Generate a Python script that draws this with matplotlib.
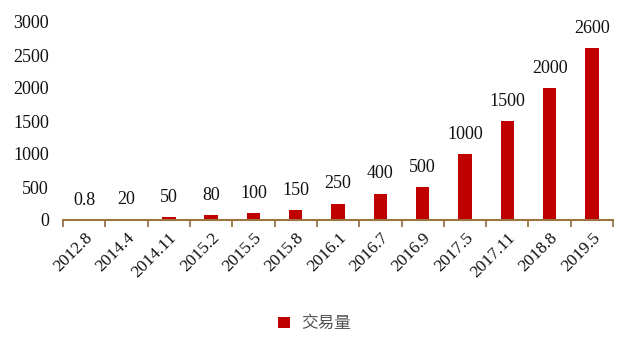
import matplotlib
matplotlib.use("Agg")
import matplotlib.pyplot as plt
import numpy as np

categories = ["2012.8", "2014.4", "2014.11", "2015.2", "2015.5", "2015.8", "2016.1",
              "2016.7", "2016.9", "2017.5", "2017.11", "2018.8", "2019.5"]
values = [0.8, 20, 50, 80, 100, 150, 250, 400, 500, 1000, 1500, 2000, 2600]
value_labels = ["0.8", "20", "50", "80", "100", "150", "250", "400", "500", "1000", "1500", "2000", "2600"]
series_name = "交易量"
yticks = [0, 500, 1000, 1500, 2000, 2500, 3000]

serif = ["Liberation Serif", "DejaVu Serif"]
cjk = ["Noto Sans CJK SC", "DejaVu Sans"]

fig = plt.figure(figsize=(6.36, 3.52), dpi=100)
ax = fig.add_axes([0.099, 0.375, 0.865, 0.5625])

x = np.arange(len(categories))
bars = ax.bar(x, values, width=0.32, color="#C00000", label=series_name, zorder=2)

for xi, v, lab in zip(x, values, value_labels):
    ax.annotate(lab, (xi, v), xytext=(0, 8), textcoords="offset points",
                ha="center", va="bottom", fontsize=13, family=serif, color="#111111")

ax.set_xlim(-0.5, len(categories) - 0.5)
ax.set_ylim(0, 3000)
ax.set_yticks(yticks)
ax.set_yticklabels([str(t) for t in yticks], family=serif, fontsize=13, color="#111111")
ax.tick_params(axis="y", length=0, pad=10)

ax.set_xticks(x)
ax.set_xticklabels(categories, rotation=45, ha="right", rotation_mode="anchor",
                   family=serif, fontsize=12.5, color="#111111")
ax.set_xticks(np.arange(-0.5, len(categories)), minor=True)
ax.tick_params(axis="x", which="major", length=0, pad=7)
ax.tick_params(axis="x", which="minor", length=5, width=1.2, color="#8B6B3D", direction="out")

for s in ["top", "right", "left"]:
    ax.spines[s].set_visible(False)
ax.spines["bottom"].set_color("#9B7440")
ax.spines["bottom"].set_linewidth(1.5)

leg = fig.legend(handles=[bars], labels=[series_name], loc="center",
                 bbox_to_anchor=(0.495, 0.08), frameon=False,
                 prop={"family": cjk, "size": 12}, handlelength=0.7, handleheight=0.7,
                 handletextpad=0.7)
for t in leg.get_texts():
    t.set_color("#555555")

fig.savefig("out.png", dpi=100)
